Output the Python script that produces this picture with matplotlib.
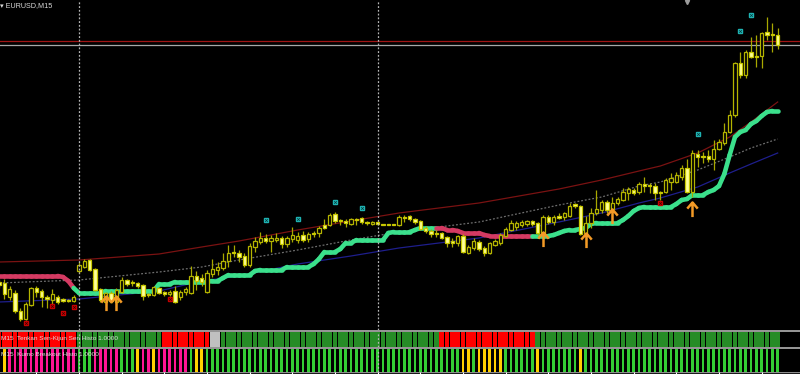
import numpy as np
import matplotlib
matplotlib.use("Agg")
import matplotlib.pyplot as plt
from matplotlib.collections import LineCollection
from matplotlib.path import Path

# price scale of the main window: REF is the top edge, values below are in points
REF = 1.09500
POINT = 0.00001

# EURUSD M15 candles, points below REF
o_pts = [282, 283, 297, 293, 311, 319, 305, 288, 291, 297,
         300, 297, 299, 300, 301, 271, 267, 260, 269, 289,
         302, 293, 302, 292, 280, 282, 283, 285, 294, 295,
         288, 292, 294, 291, 297, 292, 293, 276, 278, 292,
         274, 270, 268, 261, 252, 253, 256, 265, 247, 242,
         238, 241, 240, 238, 244, 239, 240, 235, 239, 233,
         233, 225, 225, 214, 220, 221, 224, 219, 218, 222,
         224, 222, 224, 224, 224, 225, 217, 216, 219, 221,
         228, 231, 233, 233, 237, 241, 243, 236, 253, 248,
         242, 248, 253, 245, 243, 236, 230, 227, 225, 224,
         221, 223, 233, 217, 222, 216, 217, 216, 204, 206,
         233, 223, 213, 210, 202, 209, 203, 200, 193, 190,
         192, 184, 185, 186, 192, 192, 182, 182, 177, 168,
         192, 154, 156, 156, 159, 149, 143, 132, 115, 63,
         75, 52, 56, 56, 32, 34, 35]
h_pts = [279, 279, 286, 290, 308, 302, 287, 286, 289, 295,
         289, 295, 298, 299, 295, 262, 259, 259, 268, 288,
         292, 291, 288, 277, 279, 280, 282, 284, 293, 286,
         287, 291, 290, 286, 290, 287, 266, 271, 274, 270,
         259, 262, 253, 245, 245, 250, 253, 243, 237, 232,
         234, 235, 233, 236, 236, 227, 232, 231, 232, 231,
         226, 219, 213, 212, 219, 219, 218, 218, 217, 221,
         221, 221, 224, 224, 224, 215, 215, 215, 218, 220,
         226, 229, 230, 232, 236, 238, 235, 234, 245, 238,
         240, 246, 242, 239, 233, 227, 220, 221, 220, 220,
         220, 222, 215, 215, 215, 213, 212, 203, 203, 205,
         216, 208, 190, 200, 200, 197, 197, 188, 187, 188,
         182, 177, 183, 183, 191, 178, 173, 172, 165, 159,
         150, 150, 152, 150, 140, 139, 123, 110, 62, 52,
         50, 37, 35, 32, 17, 23, 28]
l_pts = [288, 299, 300, 313, 321, 320, 306, 297, 307, 308,
         305, 304, 302, 302, 302, 273, 268, 271, 291, 302,
         305, 303, 304, 293, 286, 286, 288, 300, 297, 296,
         294, 296, 296, 303, 300, 295, 294, 290, 286, 293,
         277, 275, 270, 267, 257, 262, 267, 267, 252, 244,
         243, 252, 242, 248, 247, 242, 243, 242, 242, 237,
         237, 229, 226, 223, 225, 227, 225, 225, 224, 225,
         225, 225, 225, 225, 225, 226, 222, 221, 224, 230,
         233, 237, 237, 239, 247, 247, 246, 253, 254, 250,
         251, 256, 254, 246, 245, 237, 231, 230, 227, 226,
         226, 235, 235, 224, 225, 219, 220, 217, 208, 235,
         245, 228, 215, 213, 213, 212, 205, 201, 200, 195,
         194, 192, 193, 200, 200, 193, 190, 183, 180, 193,
         197, 167, 163, 162, 170, 150, 145, 133, 117, 78,
         78, 58, 67, 68, 40, 52, 49]
c_pts = [285, 294, 289, 311, 319, 304, 288, 292, 297, 299,
         294, 302, 301, 301, 297, 265, 261, 270, 290, 300,
         293, 301, 290, 280, 284, 283, 286, 296, 295, 287,
         293, 294, 292, 302, 292, 289, 276, 281, 282, 273,
         269, 267, 261, 253, 253, 257, 265, 246, 241, 238,
         241, 238, 238, 244, 238, 235, 236, 240, 234, 234,
         228, 228, 215, 221, 221, 223, 219, 220, 222, 223,
         222, 224, 225, 225, 225, 217, 218, 219, 222, 229,
         231, 234, 234, 238, 243, 243, 236, 252, 247, 241,
         249, 253, 243, 241, 235, 229, 223, 223, 222, 221,
         224, 233, 217, 222, 217, 218, 213, 206, 206, 234,
         223, 213, 209, 202, 210, 203, 199, 192, 189, 193,
         184, 186, 186, 193, 193, 180, 178, 175, 168, 192,
         153, 157, 157, 159, 149, 142, 132, 115, 63, 75,
         52, 57, 57, 33, 35, 35, 45]

# thick trailing line and the bars where it is bearish (red)
trail_pts = [276, 276, 276, 276, 276, 276, 276, 276, 276, 276,
             276, 276, 277, 281, 288, 293, 293, 293, 293, 293,
             291, 291, 291, 291, 291, 291, 291, 291, 291, 291,
             284, 284, 284, 282, 282, 282, 282, 282, 282, 282,
             281, 281, 278, 275, 275, 275, 275, 275, 271, 270,
             270, 270, 270, 270, 267, 267, 267, 267, 267, 264,
             259, 252, 252, 252, 249, 243, 243, 240, 240, 240,
             240, 240, 240, 233, 232, 232, 232, 232, 230, 228,
             228, 228, 228, 228, 230, 230, 231, 233, 233, 233,
             233, 235, 236, 236, 236, 236, 236, 236, 236, 236,
             236, 236, 236, 236, 235, 233, 231, 230, 230, 229,
             228, 224, 223, 223, 223, 223, 223, 220, 216, 211,
             208, 207, 207, 207, 207, 207, 207, 204, 200, 199,
             195, 195, 195, 192, 190, 186, 174, 155, 137, 132,
             130, 124, 121, 116, 112, 111, 111]
trail_red = list(range(0, 15)) + list(range(83, 101))

# envelope bands, sampled at these bars
band_bars = [0, 15, 30, 38, 45, 56, 66, 75, 90, 105, 113, 120, 124, 131, 137, 141, 146]
upper_pts = [262, 260, 254, 247, 241, 230, 221, 213, 203, 189, 180, 171, 166, 153, 137, 122, 102]
mid_pts = [283, 280, 272, 267, 260, 250, 240, 232, 222, 205, 197, 186, 182, 170, 157, 148, 139]
lower_pts = [302, 299, 291, 281, 276, 264, 256, 248, 238, 222, 213, 203, 198, 187, 173, 164, 153]

# signal markers
cyan_bars = [50, 56, 63, 68, 131, 139, 141]
cyan_pts = [220, 219, 202, 208, 134, 31, 15]
red_bars = [5, 10, 12, 14, 32, 124]
red_pts = [323, 306, 313, 307, 299, 203]
arrow_bars = [20, 22, 102, 110, 115, 130]
arrow_pts = [296, 296, 232, 233, 209, 202]

hline_red_pts = 41
hline_grey_pts = 45
separator_bars = [15, 71]
time_tick_bars = list(range(7, 147, 8))

# Tenkan Sen-Kijun Sen histo: R red, G green, S silver
tk_state = ("RRRRRRRRRRRRRRR" "GGGGGGGGGGGGGGGG" "RRRRRRRRR" "SS"
            "GGGGGGGGGGGGGGGGGGGGGGGGGGGGGGGGGGGGGGGGG"
            "RRRRRRRRRRRRRRRRRR"
            "GGGGGGGGGGGGGGGGGGGGGGGGGGGGGGGGGGGGGGGGGGGGGG")
# Kumo breakout histo: P pink, Y yellow, L lime
kumo_state = ("PY" "PPPPPPPPPPPPP" "LLL" "PPPPP" "LLL" "Y" "PP" "Y" "PPPPPP" "L" "YY"
              "LLLLLLLLLLLLLLLLLLLLLLLLLLLLLLLLLLLLLLLLLLLLLLLL"
              "YY" "L" "YYYYY" "LLLLLL" "Y" "LLLLLLL" "Y"
              "LLLLLLLLLLLLLLLLLLLLLLLLLLLLLLLLLLLLL")


def price(p):
    return REF - np.asarray(p, dtype=float) * POINT


W, H = 800, 374
BAR_PX = 16 / 3
XMIN = 1 / BAR_PX
XMAX = XMIN + W / BAR_PX
FONT = ["Liberation Sans", "DejaVu Sans"]

fig = plt.figure(figsize=(W / 100, H / 100), dpi=100, facecolor="black")
ax = fig.add_axes([0, 44 / H, 1, 330 / H])
ax1 = fig.add_axes([0, 27 / H, 1, 15 / H])
ax2 = fig.add_axes([0, 2 / H, 1, 23 / H])
ax3 = fig.add_axes([0, 0, 1, 2 / H])
for a in (ax, ax1, ax2, ax3):
    a.set_facecolor("black")
    a.set_xlim(XMIN, XMAX)
    a.set_xticks([])
    a.set_yticks([])
    for s in a.spines.values():
        s.set_visible(False)

ax.set_ylim(REF - 330 * POINT, REF)
n = len(c_pts)
x = np.arange(n)
o, hi, lo, c = price(o_pts), price(h_pts), price(l_pts), price(c_pts)

# horizontal levels
ax.axhline(price(hline_red_pts), color="#a01414", lw=0.9, zorder=1)
ax.axhline(price(hline_grey_pts), color="#a8a8a8", lw=0.9, zorder=1)

# bands
ax.plot(band_bars, price(upper_pts), color="#7a1212", lw=0.9, zorder=2)
ax.plot(band_bars, price(mid_pts), color="#6e6e6e", lw=0.9, ls=(0, (1.5, 1.5)), zorder=2)
ax.plot(band_bars, price(lower_pts), color="#1e1e8c", lw=0.9, zorder=2)

# thick trailing line coloured by state
tr = price(trail_pts)
segs, cols = [], []
for i in range(1, n):
    segs.append([(i - 1, tr[i - 1]), (i, tr[i])])
    cols.append("#d43a62" if i in trail_red else "#3be08c")
ax.add_collection(LineCollection(segs, colors=cols, linewidths=3.3, capstyle="round", zorder=3))

# candles
ax.vlines(x, lo, hi, color="#a8a800", lw=0.9, zorder=4)
bull = c >= o
body_lo = np.minimum(o, c)
body_h = np.maximum(np.abs(c - o), POINT * 0.8)
ax.bar(x[bull], body_h[bull], bottom=body_lo[bull], width=0.6, facecolor="black",
       edgecolor="#b4b400", lw=0.9, zorder=5)
ax.bar(x[~bull], body_h[~bull], bottom=body_lo[~bull], width=0.6, facecolor="#ffff9a",
       edgecolor="#c8c800", lw=0.9, zorder=5)

# signal marks
ax.plot(cyan_bars, price(cyan_pts), ls="none", marker="s", ms=3.2, color="#1fb4b4", zorder=6)
ax.plot(cyan_bars, price(cyan_pts), ls="none", marker="x", ms=2, mew=0.5, color="#063c3c", zorder=7)
ax.plot(red_bars, price(red_pts), ls="none", marker="s", ms=3.2, color="#c80000", zorder=6)
ax.plot(red_bars, price(red_pts), ls="none", marker="x", ms=2, mew=0.5, color="#3c0000", zorder=7)

arrow = Path([(-0.36, -0.42), (0, 0), (0.36, -0.42), (0, 0), (0, -1)],
             [Path.MOVETO, Path.LINETO, Path.LINETO, Path.MOVETO, Path.LINETO])
ax.plot(arrow_bars, price(arrow_pts), ls="none", marker=arrow, ms=21, mew=1.8,
        mec="#f39a26", mfc="none", zorder=8)

# shift marker at top
ax.plot([687 / W], [1 - 2 / 330], marker="v", ms=3, color="#9c9c9c",
        transform=ax.transAxes, clip_on=False, zorder=9)

# indicator windows
tk_col = {"R": "#ff0000", "G": "#268c26", "S": "#c0c0c0"}
ax1.set_ylim(0, 1)
ax1.bar(x, 1, width=0.82, color=[tk_col[s] for s in tk_state], zorder=2)
kumo_col = {"P": "#ff1493", "Y": "#ffd000", "L": "#34cd34"}
ax2.set_ylim(0, 1)
ax2.bar(x, 1, width=0.5, color=[kumo_col[s] for s in kumo_state], zorder=2)

# period separators
for a in (ax, ax1, ax2):
    for b in separator_bars:
        a.axvline(b, color="#b4b4b4", lw=0.9, ls=(0, (1.5, 1.5)), zorder=10)

# time scale strip
ax3.set_ylim(0, 1)
ax3.axhline(0.8, color="#8c8c8c", lw=1)
ax3.vlines(time_tick_bars, 0, 1, color="white", lw=0.8)

# window borders
for yp in (331, 348):
    fig.add_artist(plt.Line2D([0, 1], [1 - yp / H, 1 - yp / H], color="#9a9a9a", lw=1.4))

fig.text(0.5 / W, 1 - 6 / H, "\u25be EURUSD,M15", color="#d8d8d8", fontsize=5.2,
         family=FONT, va="center", ha="left")
fig.text(1 / W, 1 - 338.5 / H, "M15  Tenkan Sen-Kijun Sen Histo 1.0000", color="#dcdcdc",
         fontsize=4.6, family=FONT, va="center", ha="left", zorder=20)
fig.text(1 / W, 1 - 355 / H, "M15  Kumo Breakout Histo 1.0000", color="#dcdcdc",
         fontsize=4.6, family=FONT, va="center", ha="left", zorder=20)

fig.savefig("out.png", dpi=100, facecolor="black")
